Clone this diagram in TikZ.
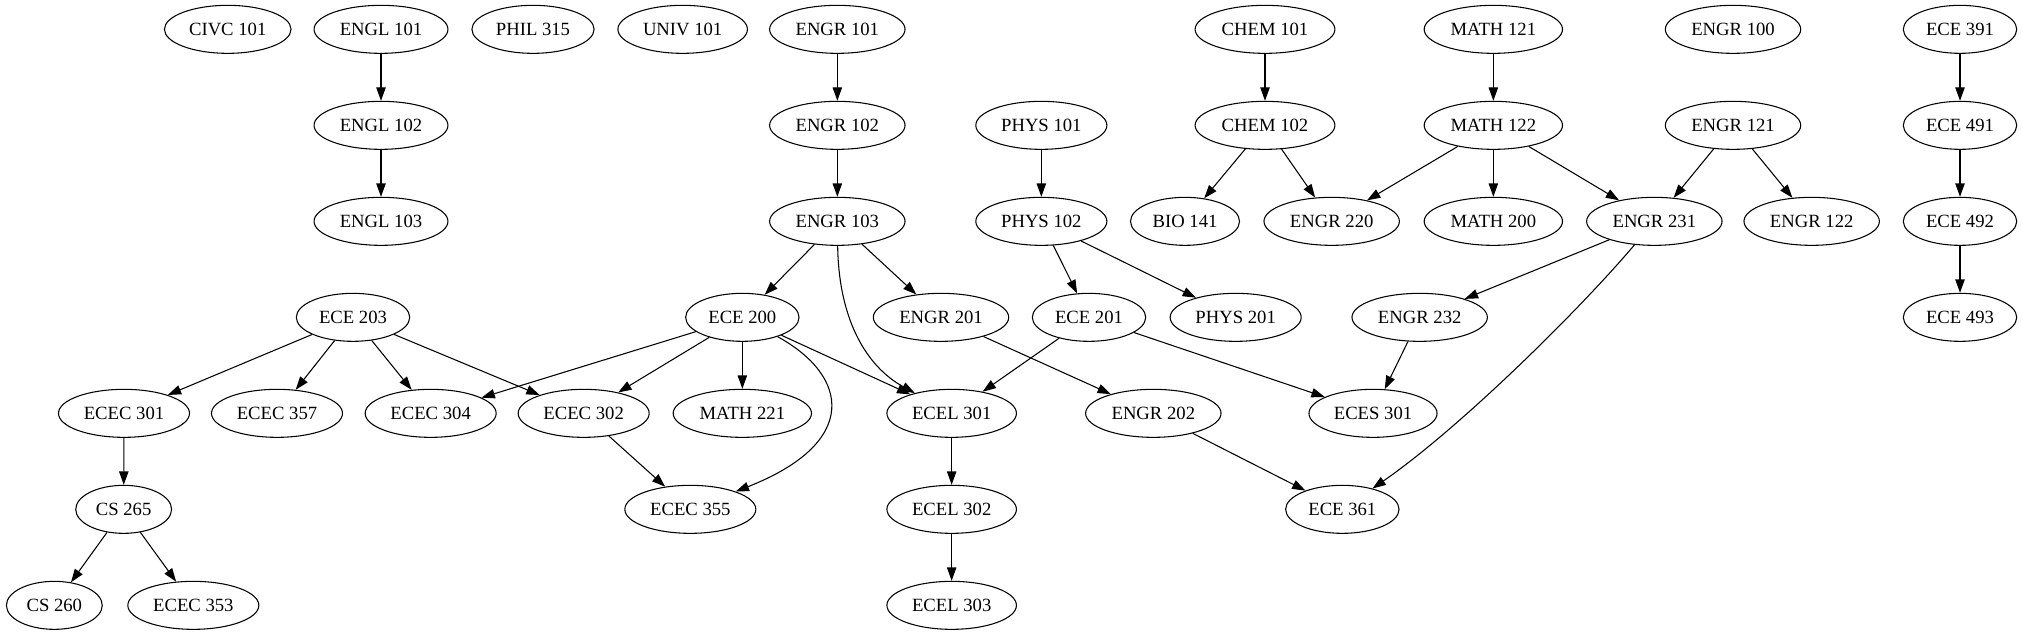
\documentclass[tikz,border=0pt]{standalone}
\usepackage{fontspec}
\setmainfont{Liberation Serif}
\usetikzlibrary{arrows.meta,shapes.geometric}
\tikzset{
  course/.style={ellipse,draw,line width=0.8pt,inner xsep=4.6pt,inner ysep=3pt,
    minimum height=36pt,minimum width=54pt,font=\fontsize{14pt}{16pt}\selectfont},
  edge/.style={line width=0.8pt,-{Triangle[length=10pt,width=7pt]}}
}
\begin{document}
\begin{tikzpicture}[x=1pt,y=-1pt]
\useasboundingbox (0,0) rectangle (1517.25,476.25);
% row 0
\node[course] (civc101) at (170.8,22) {CIVC 101};
\node[course] (engl101) at (285.75,22) {ENGL 101};
\node[course] (phil315) at (399.75,22) {PHIL 315};
\node[course] (univ101) at (512,22) {UNIV 101};
\node[course] (engr101) at (628,22) {ENGR 101};
\node[course] (chem101) at (948.75,22) {CHEM 101};
\node[course] (math121) at (1120,22) {MATH 121};
\node[course] (engr100) at (1299.75,22) {ENGR 100};
\node[course] (ece391) at (1470,22) {ECE 391};
% row 1
\node[course] (engl102) at (285.75,94) {ENGL 102};
\node[course] (engr102) at (628,94) {ENGR 102};
\node[course] (phys101) at (781,94) {PHYS 101};
\node[course] (chem102) at (948.75,94) {CHEM 102};
\node[course] (math122) at (1120,94) {MATH 122};
\node[course] (engr121) at (1299.75,94) {ENGR 121};
\node[course] (ece491) at (1470,94) {ECE 491};
% row 2
\node[course] (engl103) at (285.75,166) {ENGL 103};
\node[course] (engr103) at (628,166) {ENGR 103};
\node[course] (phys102) at (781,166) {PHYS 102};
\node[course] (bio141) at (888.75,166) {BIO 141};
\node[course] (engr220) at (998.75,166) {ENGR 220};
\node[course] (math200) at (1120,166) {MATH 200};
\node[course] (engr231) at (1240.75,166) {ENGR 231};
\node[course] (engr122) at (1358.75,166) {ENGR 122};
\node[course] (ece492) at (1470,166) {ECE 492};
% row 3
\node[course] (ece203) at (264.75,238) {ECE 203};
\node[course] (ece200) at (556.75,238) {ECE 200};
\node[course] (engr201) at (705.75,238) {ENGR 201};
\node[course] (ece201) at (816.75,238) {ECE 201};
\node[course] (phys201) at (926.75,238) {PHYS 201};
\node[course] (engr232) at (1064.75,238) {ENGR 232};
\node[course] (ece493) at (1470,238) {ECE 493};
% row 4
\node[course] (ecec301) at (93,310) {ECEC 301};
\node[course] (ecec357) at (207.75,310) {ECEC 357};
\node[course] (ecec304) at (323,310) {ECEC 304};
\node[course] (ecec302) at (437.75,310) {ECEC 302};
\node[course] (math221) at (556.75,310) {MATH 221};
\node[course] (ecel301) at (713.75,310) {ECEL 301};
\node[course] (engr202) at (865,310) {ENGR 202};
\node[course] (eces301) at (1029.75,310) {ECES 301};
% row 5
\node[course] (cs265) at (92.75,382) {CS 265};
\node[course] (ecec355) at (517.75,382) {ECEC 355};
\node[course] (ecel302) at (713.75,382) {ECEL 302};
\node[course] (ece361) at (1006.75,382) {ECE 361};
% row 6
\node[course] (cs260) at (40.75,454) {CS 260};
\node[course] (ecec353) at (145,454) {ECEC 353};
\node[course] (ecel303) at (713.75,454) {ECEL 303};
% edges
\draw[edge] (engl101) -- (engl102);
\draw[edge] (engl102) -- (engl103);
\draw[edge] (engr101) -- (engr102);
\draw[edge] (engr102) -- (engr103);
\draw[edge] (engr103) -- (ece200);
\draw[edge] (engr103) .. controls (629,240) and (650,275) .. (ecel301);
\draw[edge] (engr103) -- (engr201);
\draw[edge] (phys101) -- (phys102);
\draw[edge] (phys102) -- (ece201);
\draw[edge] (phys102) -- (phys201);
\draw[edge] (chem101) -- (chem102);
\draw[edge] (chem102) -- (bio141);
\draw[edge] (chem102) -- (engr220);
\draw[edge] (math121) -- (math122);
\draw[edge] (math122) -- (engr220);
\draw[edge] (math122) -- (math200);
\draw[edge] (math122) -- (engr231);
\draw[edge] (engr121) -- (engr231);
\draw[edge] (engr121) -- (engr122);
\draw[edge] (ece391) -- (ece491);
\draw[edge] (ece491) -- (ece492);
\draw[edge] (ece492) -- (ece493);
\draw[edge] (engr231) -- (engr232);
\draw[edge] (engr231) .. controls (1185,232) and (1095,321) .. (ece361);
\draw[edge] (engr232) -- (eces301);
\draw[edge] (ece203) -- (ecec301);
\draw[edge] (ece203) -- (ecec357);
\draw[edge] (ece203) -- (ecec304);
\draw[edge] (ece203) -- (ecec302);
\draw[edge] (ece200) -- (ecec304);
\draw[edge] (ece200) -- (ecec302);
\draw[edge] (ece200) -- (math221);
\draw[edge] (ece200) -- (ecel301);
\draw[edge] (ece200) .. controls (637,282) and (645,332) .. (ecec355);
\draw[edge] (engr201) -- (engr202);
\draw[edge] (ece201) -- (ecel301);
\draw[edge] (ece201) -- (eces301);
\draw[edge] (ecec301) -- (cs265);
\draw[edge] (cs265) -- (cs260);
\draw[edge] (cs265) -- (ecec353);
\draw[edge] (ecec302) -- (ecec355);
\draw[edge] (ecel301) -- (ecel302);
\draw[edge] (ecel302) -- (ecel303);
\draw[edge] (engr202) -- (ece361);
\end{tikzpicture}
\end{document}
